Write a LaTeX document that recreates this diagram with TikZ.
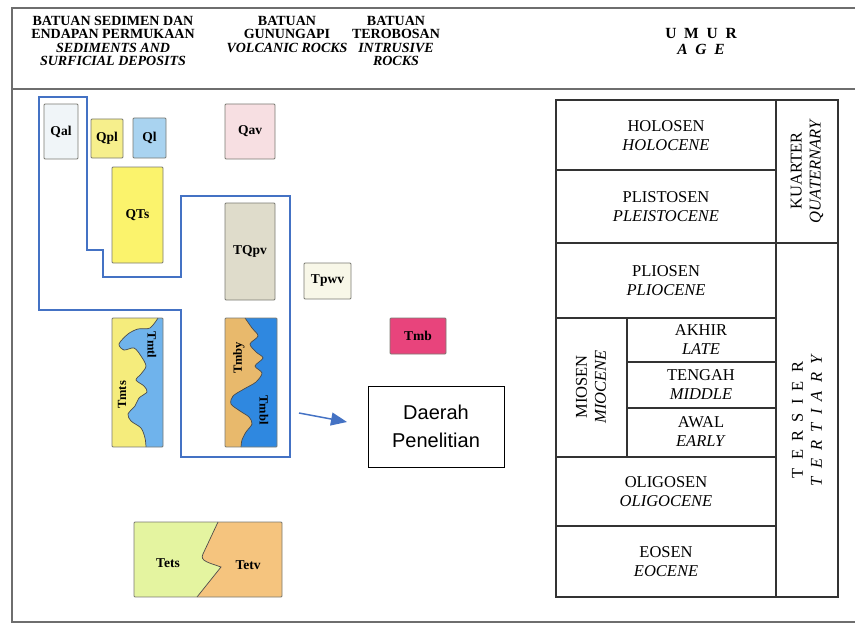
\documentclass[tikz,border=0pt]{standalone}
\usepackage{fontspec}
\setmainfont{Liberation Serif}
\newfontfamily\arialfont{Liberation Sans}
\usetikzlibrary{arrows.meta}

\definecolor{areablue}{HTML}{4472C4}
\definecolor{boxgray}{HTML}{7A7A72}
\definecolor{framegray}{HTML}{6E6E6E}
\definecolor{qal}{HTML}{F0F5F8}
\definecolor{qpl}{HTML}{F6EF8C}
\definecolor{ql}{HTML}{A9D3F0}
\definecolor{qav}{HTML}{F7DFE2}
\definecolor{qts}{HTML}{FBF36C}
\definecolor{tqpv}{HTML}{DFDCCB}
\definecolor{tpwv}{HTML}{F8F7E8}
\definecolor{tmb}{HTML}{E8447C}
\definecolor{tmts}{HTML}{F5EC7C}
\definecolor{tmtl}{HTML}{6FB3EC}
\definecolor{tmby}{HTML}{E8B96C}
\definecolor{tmbl}{HTML}{2F88E0}
\definecolor{tets}{HTML}{E4F4A0}
\definecolor{tetv}{HTML}{F5C47E}

\begin{document}
\begin{tikzpicture}[x=1pt,y=-1pt,
  rock/.style={draw=boxgray,line width=0.8pt,rounded corners=1pt,inner sep=0pt,
    font=\fontsize{13.5}{15}\selectfont\bfseries},
  rockline/.style={draw=boxgray,line width=0.8pt,rounded corners=1pt},
  contact/.style={draw=black!70,line width=0.7pt},
  vlabel/.style={inner sep=0pt,font=\fontsize{12.5}{14}\selectfont\bfseries},
  hdr/.style={align=center,inner sep=0pt,font=\fontsize{14}{13.5}\selectfont\bfseries},
  age/.style={align=center,inner sep=0pt,font=\fontsize{16.5}{19}\selectfont},
  tbl/.style={draw=black!80,line width=1.2pt},
  frame/.style={draw=framegray,line width=2pt},
  zone/.style={draw=areablue,line width=1.5pt}]

\useasboundingbox (0,0) rectangle (855,626);

\draw[frame] (855,8) -- (12,8) -- (12,622) -- (855,622);
\draw[frame] (12,89) -- (855,89);

\node[hdr] (sedhdr) at (113,41) {BATUAN SEDIMEN DAN\\ENDAPAN PERMUKAAN\\\textit{SEDIMENTS AND}\\\textit{SURFICIAL DEPOSITS}};
\node[hdr] (volhdr) at (287,34) {BATUAN\\GUNUNGAPI\\\textit{VOLCANIC ROCKS}};
\node[hdr] (inthdr) at (396,41) {BATUAN\\TEROBOSAN\\\textit{INTRUSIVE}\\\textit{ROCKS}};
\node[hdr,font=\fontsize{15.5}{15}\selectfont\bfseries] (agehdr) at (701,42) {U~~M~~U~~R\\[1pt]\textit{A~~G~~E}};

\node[rock,fill=qal,minimum width=34pt,minimum height=55pt] (qal) at (61,131.5) {Qal};
\node[rock,fill=qpl,minimum width=32pt,minimum height=39pt] (qpl) at (107,138.5) {Qpl};
\node[rock,fill=ql,minimum width=33pt,minimum height=40pt] (ql) at (149.5,138) {Ql};
\node[rock,fill=qav,minimum width=50pt,minimum height=55pt] (qav) at (250,131.5) {Qav};
\node[rock,fill=qts,minimum width=51pt,minimum height=96pt] (qts) at (137.5,215) {QTs};
\node[rock,fill=tqpv,minimum width=50pt,minimum height=97pt] (tqpv) at (250,251.5) {TQpv};
\node[rock,fill=tpwv,minimum width=47pt,minimum height=36pt] (tpwv) at (327.5,281) {Tpwv};
\node[rock,fill=tmb,minimum width=56pt,minimum height=36pt] (tmb) at (418,336) {Tmb};

\fill[tmts] (112,318) rectangle (163,447);
\fill[tmtl] plot[smooth] coordinates {(158,318) (150,328) (138,329) (128,334) (119,344) (124,350) (134,348) (141,356) (146,366) (141,374) (136,380) (144,386) (147,392) (139,398) (135,406) (128,414) (131,421) (141,428) (145,438) (146,447)} -- (163,447) -- (163,318) -- cycle;
\draw[contact] plot[smooth] coordinates {(158,318) (150,328) (138,329) (128,334) (119,344) (124,350) (134,348) (141,356) (146,366) (141,374) (136,380) (144,386) (147,392) (139,398) (135,406) (128,414) (131,421) (141,428) (145,438) (146,447)};
\draw[rockline] (112,318) rectangle (163,447);
\node[vlabel,rotate=90] (tmtsl) at (122,395) {Tmts};
\node[vlabel,rotate=-90] (tmtll) at (152,345) {Tmtl};

\fill[tmby] (225,318) rectangle (277,447);
\fill[tmbl] plot[smooth] coordinates {(245,318) (252,328) (258,336) (250,344) (256,352) (263,358) (255,366) (262,373) (256,382) (244,389) (233,396) (231,404) (240,411) (249,417) (252,424) (246,432) (242,440) (241,447)} -- (277,447) -- (277,318) -- cycle;
\draw[contact] plot[smooth] coordinates {(245,318) (252,328) (258,336) (250,344) (256,352) (263,358) (255,366) (262,373) (256,382) (244,389) (233,396) (231,404) (240,411) (249,417) (252,424) (246,432) (242,440) (241,447)};
\draw[rockline] (225,318) rectangle (277,447);
\node[vlabel,rotate=90] (tmbyl) at (239,358) {Tmby};
\node[vlabel,rotate=-90] (tmbll) at (264,410) {Tmbl};

\fill[tets] (134,522) rectangle (282,597);
\fill[tetv] (218,522) -- (203,554) .. controls (199,561) and (210,563) .. (221,567) -- (197,597) -- (282,597) -- (282,522) -- cycle;
\draw[contact] (218,522) -- (203,554) .. controls (199,561) and (210,563) .. (221,567) -- (197,597);
\draw[rockline] (134,522) rectangle (282,597);
\node[rock,draw=none,fill=none] (tetsl) at (168,563) {Tets};
\node[rock,draw=none,fill=none] (tetvl) at (248,565) {Tetv};

\draw[zone] (39,97) -- (87,97) -- (87,250) -- (103,250) -- (103,277) -- (181,277) -- (181,196)
  -- (290,196) -- (290,457) -- (181,457) -- (181,310) -- (39,310) -- cycle;

\node[draw,line width=1pt,minimum width=136pt,minimum height=81pt,align=center,
  font=\arialfont\fontsize{20}{28}\selectfont] (daerah) at (436,426.5) {Daerah\\Penelitian};
\coordinate (arrfrom) at (299,413);
\coordinate (arrto) at (347,422);
\draw[areablue,line width=1.5pt,-{Triangle[length=16pt,width=13pt]}] (arrfrom) -- (arrto);

\draw[tbl] (556,100) rectangle (838,597);
\draw[tbl] (776,100) -- (776,597);
\draw[tbl] (556,170) -- (776,170);
\draw[tbl] (556,243) -- (838,243);
\draw[tbl] (556,318) -- (776,318);
\draw[tbl] (627,318) -- (627,457);
\draw[tbl] (627,362) -- (776,362);
\draw[tbl] (627,408) -- (776,408);
\draw[tbl] (556,457) -- (776,457);
\draw[tbl] (556,526) -- (776,526);

\node[age] (holosen) at (666,136) {HOLOSEN\\\textit{HOLOCENE}};
\node[age] (plistosen) at (666,207) {PLISTOSEN\\\textit{PLEISTOCENE}};
\node[age] (pliosen) at (666,281) {PLIOSEN\\\textit{PLIOCENE}};
\node[age,rotate=90] (miosen) at (591,387) {MIOSEN\\\textit{MIOCENE}};
\node[age] (akhir) at (701,340) {AKHIR\\\textit{LATE}};
\node[age] (tengah) at (701,385) {TENGAH\\\textit{MIDDLE}};
\node[age] (awal) at (701,432) {AWAL\\\textit{EARLY}};
\node[age] (oligosen) at (666,492) {OLIGOSEN\\\textit{OLIGOCENE}};
\node[age] (eosen) at (666,562) {EOSEN\\\textit{EOCENE}};
\node[age,rotate=90] (kuarter) at (807,171) {KUARTER\\\textit{QUATERNARY}};
\node[age,rotate=90] (tersier) at (807,420) {T~~E~~R~~S~~I~~E~~R\\\textit{T~~E~~R~~T~~I~~A~~R~~Y}};

\end{tikzpicture}
\end{document}
